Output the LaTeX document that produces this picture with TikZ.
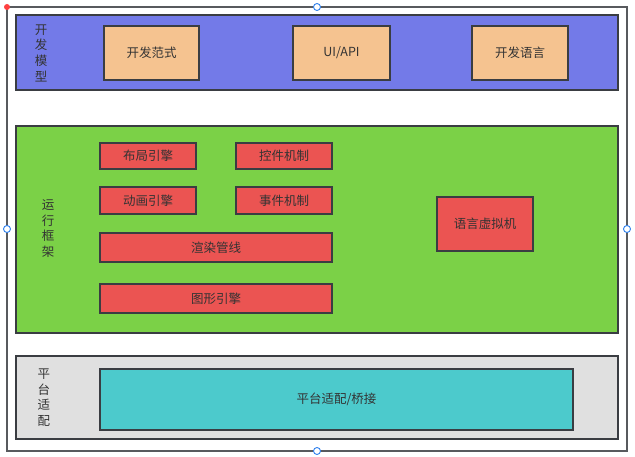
\documentclass[tikz,border=0pt]{standalone}
\usepackage{fontspec}
\setmainfont{Noto Sans CJK SC}
\definecolor{cblue}{HTML}{737AE8}
\definecolor{corange}{HTML}{F5C390}
\definecolor{cgreen}{HTML}{7BD147}
\definecolor{cred}{HTML}{EB5452}
\definecolor{cgray}{HTML}{E0E0E0}
\definecolor{ccyan}{HTML}{4CCACC}
\definecolor{cline}{HTML}{3A3D42}
\definecolor{ctext}{HTML}{333333}
\definecolor{chandle}{HTML}{2F80ED}
\begin{document}
\begin{tikzpicture}[x=1pt,y=-1pt,
  layer/.style={draw=cline,line width=1.5pt,inner sep=0pt},
  box/.style={draw=cline,line width=1.5pt,inner sep=0pt,text=ctext,font=\fontsize{12.5}{15}\selectfont},
  vlabel/.style={align=center,text=ctext,inner sep=0pt,font=\fontsize{12.5}{15.7}\selectfont},
  handle/.style={circle,draw=chandle,fill=white,line width=0.9pt,inner sep=0pt,minimum size=7pt}]
\useasboundingbox (0,0) rectangle (635,457);
% outer frame
\draw[draw=cline!85,line width=2pt] (7,7) rectangle (627,451);
% layers
\draw[layer,fill=cblue] (16,15) rectangle (618,90);
\draw[layer,fill=cgreen] (16,126) rectangle (618,333);
\draw[layer,fill=cgray] (16,356) rectangle (618,439);
% vertical labels
\node[vlabel] (l1) at (41,53) {开\\发\\模\\型};
\node[vlabel] (l2) at (48,228.5) {运\\行\\框\\架};
\node[vlabel] (l3) at (44,397.5) {平\\台\\适\\配};
% top boxes
\node[box,fill=corange,minimum width=95pt,minimum height=54pt] (a1) at (151.5,53) {开发范式};
\node[box,fill=corange,minimum width=97pt,minimum height=54pt] (a2) at (341.5,53) {UI/API};
\node[box,fill=corange,minimum width=96pt,minimum height=54pt] (a3) at (520,53) {开发语言};
% runtime boxes
\node[box,fill=cred,minimum width=96pt,minimum height=26pt] (b1) at (148,156) {布局引擎};
\node[box,fill=cred,minimum width=96pt,minimum height=26pt] (b2) at (284,156) {控件机制};
\node[box,fill=cred,minimum width=96pt,minimum height=27pt] (b3) at (148,200.5) {动画引擎};
\node[box,fill=cred,minimum width=96pt,minimum height=27pt] (b4) at (284,200.5) {事件机制};
\node[box,fill=cred,minimum width=232pt,minimum height=29pt] (b5) at (216,247.5) {渲染管线};
\node[box,fill=cred,minimum width=232pt,minimum height=29pt] (b6) at (216,298.5) {图形引擎};
\node[box,fill=cred,minimum width=96pt,minimum height=54pt] (b7) at (485,224) {语言虚拟机};
% platform
\node[box,fill=ccyan,minimum width=473pt,minimum height=61pt] (c1) at (336.5,399.5) {平台适配/桥接};
% selection handles
\node[handle] (h1) at (317,7) {};
\node[handle] (h2) at (7,229) {};
\node[handle] (h3) at (627,229) {};
\node[handle] (h4) at (317,451) {};
\node[circle,fill=red!75,inner sep=0pt,minimum size=6pt] (h0) at (7,7) {};
\end{tikzpicture}
\end{document}
